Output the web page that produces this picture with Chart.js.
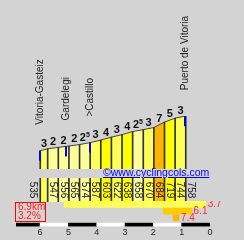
<!DOCTYPE html>
<html>
<head>
<meta charset="utf-8">
<script src="https://cdn.jsdelivr.net/npm/chart.js@4.4.1/dist/chart.umd.min.js"></script>
<style>
  body { margin: 0; background: #d3d3d3; }
  #wrap { position: relative; width: 244px; height: 240px; background: #d3d3d3; overflow: hidden;
          font-family: "Liberation Sans", Arial, sans-serif; }
  canvas { position: absolute; left: 0; }
  #copy { position: absolute; left: 103px; top: 166px; font-size: 10.5px; color: #0000ff; text-decoration: underline; }
  #info { position: absolute; left: 15px; top: 202px; width: 31px; height: 20px; box-sizing: border-box;
          border: 1px solid #ff0000; color: #ff2020; font-size: 10px; line-height: 8.6px; padding-left: 2px; }
</style>
</head>
<body>
<div id="wrap">
  <canvas id="profile" width="244" height="169" style="top:0"></canvas>
  <canvas id="table" width="244" height="24" style="top:178px"></canvas>
  <canvas id="bars" width="244" height="36" style="top:201px"></canvas>
  <div id="copy">©www.cyclingcols.com</div>
  <div id="info"></div>
</div>
<script>
// distance to the summit (km) and altitude (m) at each point
const distKm = [6.85, 6.5, 6, 5.5, 5, 4.5, 4, 3.5, 3, 2.5, 2, 1.5, 1, 0.5, 0];
const elevations = [535, 547, 556, 565, 574, 587, 603, 622, 638, 658, 670, 684, 719, 744, 758];
// gradient shown over each segment
const gradients = [3, 2, 2, 2, 2.5, 3, 4, 3, 4, 2.5, 3, 7, 5, 3];

const placeNames = ['Vitoria-Gasteiz', 'Gardelegi', '>Castillo', 'Puerto de Vitoria'];
const placeKm = [6.85, 5.65, 4.5, 0.05];

// steepest parts
const maxGrades = [3.7, 6.1, 7.4];
const maxFrom = [5.15, 1.65, 1.3];
const maxTo = [0.15, 0.65, 1.1];

const distTicks = [6, 5, 4, 3, 2, 1, 0];
const totalText = '6.9km';
const avgText = '3.2%';

const FONT = '"Liberation Sans", Arial, sans-serif';

document.getElementById('info').innerHTML = totalText + '<br>' + avgText;

function gradeColor(g) {
  if (g >= 7) return '#ffb400';
  if (g >= 6) return '#ffcc00';
  if (g >= 4) return '#ffff00';
  if (g >= 3) return '#ffff55';
  return '#ffff99';
}

function elevAt(km) {
  for (let i = 0; i < distKm.length - 1; i++) {
    if (km <= distKm[i] && km >= distKm[i + 1]) {
      const t = (distKm[i] - km) / (distKm[i] - distKm[i + 1]);
      return elevations[i] + t * (elevations[i + 1] - elevations[i]);
    }
  }
  return elevations[elevations.length - 1];
}

const pad = { left: 16, right: 34, top: 0, bottom: 0 };
const xHidden = { type: 'linear', reverse: true, min: 0, max: distKm[0], display: false };
const baseOpts = {
  responsive: false,
  animation: false,
  events: [],
  plugins: { legend: { display: false }, tooltip: { enabled: false } }
};

// gradient numbers, place markers and names
const profileLabels = {
  id: 'profileLabels',
  afterDatasetsDraw(chart) {
    const { ctx, scales: { x, y } } = chart;
    ctx.save();
    ctx.fillStyle = '#111';
    ctx.textAlign = 'left';
    ctx.textBaseline = 'alphabetic';
    gradients.forEach((g, i) => {
      const px = x.getPixelForValue((distKm[i] + distKm[i + 1]) / 2);
      const py = y.getPixelForValue((elevations[i] + elevations[i + 1]) / 2) - 3;
      const main = String(Math.floor(g));
      const sup = g % 1 ? '5' : '';
      ctx.font = 'bold 11px ' + FONT;
      const w1 = ctx.measureText(main).width;
      ctx.font = 'bold 7px ' + FONT;
      const w2 = sup ? ctx.measureText(sup).width : 0;
      const left = px - (w1 + w2) / 2;
      ctx.font = 'bold 11px ' + FONT;
      ctx.fillText(main, left, py);
      if (sup) {
        ctx.font = 'bold 7px ' + FONT;
        ctx.fillText(sup, left + w1, py - 4);
      }
    });

    placeKm.forEach((km, i) => {
      const px = Math.round(x.getPixelForValue(km));
      const py = y.getPixelForValue(elevAt(km));
      ctx.fillStyle = '#0000ff';
      ctx.fillRect(px - 1, py, 2, 10);
      ctx.save();
      ctx.translate(px, py - 26);
      ctx.rotate(-Math.PI / 2);
      ctx.font = '10px ' + FONT;
      ctx.fillStyle = '#222';
      ctx.textAlign = 'left';
      ctx.textBaseline = 'middle';
      ctx.fillText(placeNames[i], 0, 0);
      ctx.restore();
    });
    ctx.restore();
  }
};

new Chart(document.getElementById('profile'), {
  type: 'line',
  data: {
    datasets: [{
      data: distKm.map((d, i) => ({ x: d, y: elevations[i] })),
      borderColor: '#444',
      borderWidth: 1,
      pointRadius: 0,
      fill: 'start',
      backgroundColor: '#ffff99',
      segment: { backgroundColor: c => gradeColor(gradients[c.p0DataIndex]) },
      order: 1
    }, {
      type: 'bar',
      data: distKm.map((d, i) => ({ x: d, y: [417, elevations[i]] })),
      backgroundColor: '#333',
      barThickness: 1,
      order: 0
    }]
  },
  options: {
    ...baseOpts,
    layout: { padding: { ...pad, top: 116 } },
    scales: { x: xHidden, y: { min: 417, max: 758, display: false } }
  },
  plugins: [profileLabels]
});

// altitude labels in the table
const tableLabels = {
  id: 'tableLabels',
  afterDatasetsDraw(chart) {
    const { ctx, chartArea, scales: { x } } = chart;
    const cy = (chartArea.top + chartArea.bottom) / 2;
    ctx.save();
    ctx.font = '10px ' + FONT;
    ctx.fillStyle = '#222';
    ctx.textAlign = 'center';
    ctx.textBaseline = 'middle';
    elevations.forEach((e, i) => {
      const px = x.getPixelForValue(distKm[i]) + (i === 0 ? -8 : 5);
      ctx.save();
      ctx.translate(px, cy);
      ctx.rotate(Math.PI / 2);
      ctx.fillText(String(e), 0, 0);
      ctx.restore();
    });
    ctx.restore();
  }
};

new Chart(document.getElementById('table'), {
  type: 'line',
  data: {
    datasets: [{
      data: distKm.map(d => ({ x: d, y: 1 })),
      borderWidth: 0,
      pointRadius: 0,
      fill: 'start',
      backgroundColor: '#ffff99',
      segment: { backgroundColor: c => gradeColor(gradients[c.p0DataIndex]) },
      order: 1
    }, {
      type: 'bar',
      data: distKm.map(d => ({ x: d, y: [0, 1] })),
      backgroundColor: '#333',
      barThickness: 1,
      order: 0
    }]
  },
  options: {
    ...baseOpts,
    layout: { padding: pad },
    scales: { x: xHidden, y: { min: 0, max: 1, display: false } }
  },
  plugins: [tableLabels]
});

// steepest-part bars, their values, and the km scale
const barLabels = {
  id: 'barLabels',
  afterDatasetsDraw(chart) {
    const { ctx } = chart;
    const meta = chart.getDatasetMeta(0);
    ctx.save();
    ctx.font = '10px ' + FONT;
    ctx.fillStyle = '#ff2a2a';
    ctx.textAlign = 'left';
    ctx.textBaseline = 'middle';
    meta.data.forEach((el, i) => {
      ctx.fillText(maxGrades[i].toFixed(1), Math.max(el.x, el.base) + 2, el.y);
    });
    ctx.restore();
  }
};

const scaleEdges = [distKm[0]].concat(distTicks);
const scaleSegs = scaleEdges.slice(0, -1).map((a, i) => ({ y: 'km', x: [scaleEdges[i + 1], a] }));

new Chart(document.getElementById('bars'), {
  type: 'bar',
  data: {
    labels: ['r1', 'r2', 'r3', 'km'],
    datasets: [{
      data: maxGrades.map((g, i) => ({ y: 'r' + (i + 1), x: [maxTo[i], maxFrom[i]] })),
      backgroundColor: maxGrades.map(gradeColor),
      barThickness: 6,
      grouped: false
    }, {
      data: scaleSegs,
      backgroundColor: scaleSegs.map((s, i) => i % 2 ? '#ffffff' : '#000000'),
      barThickness: 3,
      grouped: false
    }]
  },
  options: {
    ...baseOpts,
    indexAxis: 'y',
    layout: { padding: pad },
    scales: {
      x: {
        type: 'linear', reverse: true, min: 0, max: distKm[0],
        afterBuildTicks: s => { s.ticks = distTicks.map(v => ({ value: v })); },
        grid: { display: false, drawTicks: false },
        border: { display: false },
        ticks: { padding: 0, color: '#222', font: { size: 9, lineHeight: 1, family: FONT } }
      },
      y: { type: 'category', display: false }
    }
  },
  plugins: [barLabels]
});
</script>
</body>
</html>
